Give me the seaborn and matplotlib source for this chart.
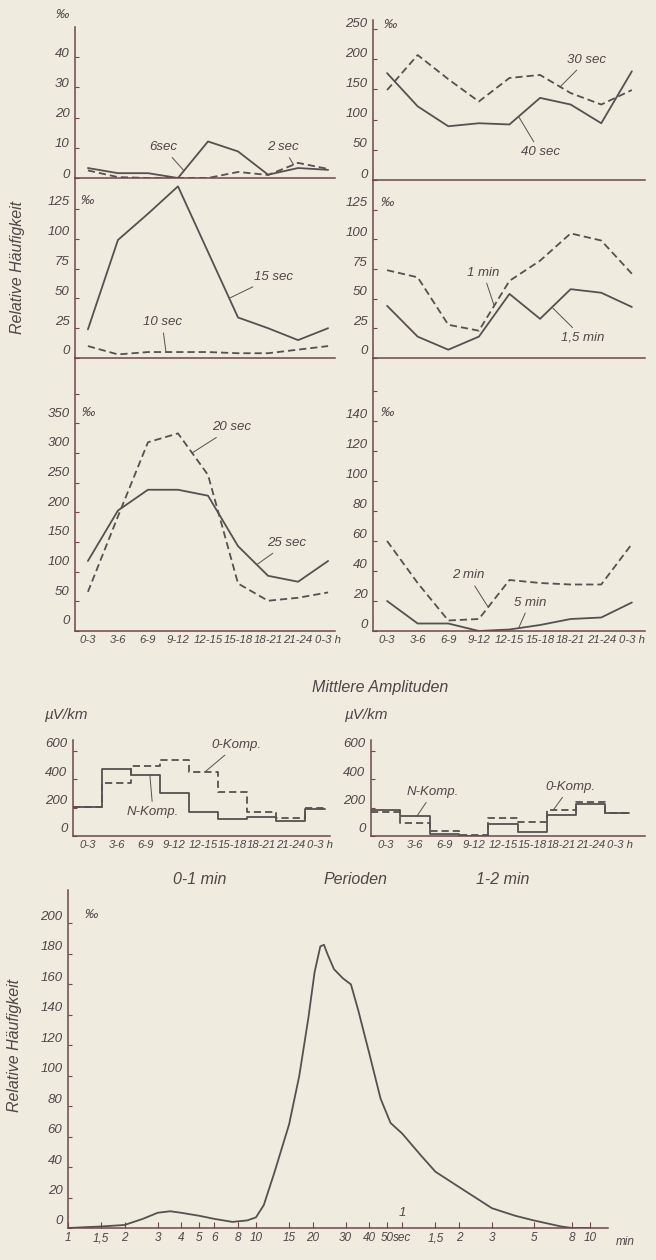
import matplotlib
matplotlib.use('Agg')
import matplotlib.pyplot as plt
import matplotlib.transforms as mtransforms
from matplotlib.ticker import NullLocator
import seaborn as sns

# ---- data (per mille / microvolt per km) ----
hours = ['0-3', '3-6', '6-9', '9-12', '12-15', '15-18', '18-21', '21-24', '0-3 h']

sec_6 = [3.3, 1.6, 1.6, 0, 12.1, 8.8, 1.1, 3.3, 2.7]
sec_2 = [2.5, 0.3, 0, 0, 0, 2, 1, 5, 3]
sec_30 = [149, 207, 167, 130, 169, 174, 144, 125, 149]
sec_40 = [177, 122, 89, 94, 92, 136, 125, 94, 180]
sec_15 = [24, 99, 121, 144, 89, 34, 25, 15, 25]
sec_10 = [10, 3, 5, 5, 5, 4, 4, 7, 10]
min_1 = [74, 68, 28, 23, 65, 82, 105, 99, 71]
min_1_5 = [44, 18, 7, 18, 54, 33, 58, 55, 43]
sec_20 = [66, 193, 318, 333, 263, 80, 51, 56, 65]
sec_25 = [118, 203, 238, 238, 228, 143, 93, 83, 118]
min_2 = [60, 32, 7, 8, 34, 32, 31, 31, 58]
min_5 = [20, 5, 5, 0, 1, 4, 8, 9, 19]

amp_short_n = [205, 473, 430, 303, 169, 120, 134, 106, 191]
amp_short_o = [205, 374, 494, 536, 452, 311, 169, 127, 198]
amp_long_n = [183, 141, 14, 0, 85, 28, 148, 226, 162]
amp_long_o = [169, 92, 35, 7, 127, 99, 183, 240, 162]

period_s = [1, 1.5, 2, 2.5, 3, 3.5, 4, 5, 6, 7.5, 9, 10, 11, 12.5, 15, 17, 19,
            20.5, 22, 23, 24, 26, 29, 32, 35, 40, 46, 52, 60, 75, 90, 120, 180,
            240, 300, 420, 480, 600]
freq = [0, 1, 2, 6, 10, 11, 10, 8, 6, 4, 5, 7, 15, 36, 68, 100, 138,
        168, 185, 186, 180, 170, 164, 160, 143, 115, 85, 69, 62, 48, 37, 27, 13,
        8, 5, 1, 0, 0]
period_ticks = [1, 1.5, 2, 3, 4, 5, 6, 8, 10, 15, 20, 30, 40, 50, 60, 90, 120, 180, 300, 480, 600]
period_labels = ['1', '1,5', '2', '3', '4', '5', '6', '8', '10', '15', '20', '30', '40',
                 '50', 'sec', '1,5', '2', '3', '5', '8', '10']

# ---- look ----
W, H = 656, 1260
paper = '#efebdf'
ink = '#4f4648'
axis_ink = '#6d474d'
line_ink = '#575051'
dash = (0, (4, 2.2))

sns.set_theme(style='ticks', rc={'axes.facecolor': paper, 'figure.facecolor': paper,
                                 'xtick.labelsize': 8.2, 'ytick.labelsize': 9.5})
plt.rcParams['font.family'] = ['Liberation Sans', 'DejaVu Sans']
plt.rcParams['font.style'] = 'italic'

fig = plt.figure(figsize=(W / 100, H / 100), dpi=100, facecolor=paper)


def panel(x0, y0, x1, y1):
    return fig.add_axes([x0 / W, 1 - y1 / H, (x1 - x0) / W, (y1 - y0) / H])


def style(ax, xlim, ylim, yticks, ylabels, lift, xlabels=None):
    ax.set_facecolor('none')
    ax.set_xlim(*xlim)
    ax.set_ylim(*ylim)
    ax.set_xlabel('')
    ax.set_ylabel('')
    for s in ['top', 'right']:
        ax.spines[s].set_visible(False)
    for s in ['left', 'bottom']:
        ax.spines[s].set_color(axis_ink)
        ax.spines[s].set_linewidth(1.1)
    ax.tick_params(axis='y', direction='in', length=3, width=0.8, color=axis_ink,
                   pad=4, labelcolor=ink)
    ax.set_yticks(yticks, ylabels)
    if xlabels is None:
        ax.set_xticks([])
    else:
        ax.set_xticks(range(len(xlabels)), xlabels)
        ax.tick_params(axis='x', length=0, pad=3, labelcolor=ink)
    off = mtransforms.ScaledTranslation(0, lift / 100, fig.dpi_scale_trans)
    for lab in ax.get_yticklabels():
        lab.set_transform(lab.get_transform() + off)


def curve(ax, y, dashed=False):
    sns.lineplot(x=list(range(len(y))), y=y, ax=ax, color=line_ink, lw=1.3,
                 linestyle=dash if dashed else '-')


def steps(ax, y, end, dashed=False):
    edges = [i - 0.5 for i in range(len(y))] + [end]
    sns.lineplot(x=edges, y=y + [y[-1]], ax=ax, color=line_ink, lw=1.3,
                 drawstyle='steps-post', linestyle=dash if dashed else '-')


def tag(ax, text, xy, xytext):
    ax.annotate(text, xy=xy, xytext=xytext, ha='center', va='center', fontsize=9.5,
                color=ink, arrowprops=dict(arrowstyle='-', color=line_ink, lw=0.7,
                                           shrinkA=1, shrinkB=0))


def permille(ax, x, y, ha='left'):
    ax.text(x, y, '‰', transform=ax.transAxes, ha=ha, va='center', fontsize=9.5, color=ink)


def labels(vals):
    return [str(v) for v in vals]


# ---- row 1 ----
ax = panel(75, 27, 335, 178)
curve(ax, sec_6)
curve(ax, sec_2, dashed=True)
style(ax, (-0.43, 8.23), (0, 50), [0, 10, 20, 30, 40], labels([0, 10, 20, 30, 40]), 5)
tag(ax, '6sec', (3.2, 2.4), (2.5, 10.2))
tag(ax, '2 sec', (6.85, 4.4), (6.5, 10.2))
permille(ax, -0.05, 1.08, 'center')

ax = panel(373, 20, 645, 180)
curve(ax, sec_30, dashed=True)
curve(ax, sec_40)
style(ax, (-0.46, 8.43), (0, 265), [0, 50, 100, 150, 200, 250],
      labels([0, 50, 100, 150, 200, 250]), 7)
tag(ax, '30 sec', (5.65, 154), (6.53, 199))
tag(ax, '40 sec', (4.3, 105), (5.0, 46))
permille(ax, 0.04, 0.97)

# ---- row 2 ----
ax = panel(75, 178, 335, 358)
curve(ax, sec_15)
curve(ax, sec_10, dashed=True)
style(ax, (-0.43, 8.23), (0, 151), [0, 25, 50, 75, 100, 125],
      labels([0, 25, 50, 75, 100, 125]), 8)
tag(ax, '15 sec', (4.7, 50), (6.17, 68))
tag(ax, '10 sec', (2.6, 5), (2.47, 30))
permille(ax, 0.02, 0.87)

ax = panel(373, 180, 645, 358)
curve(ax, min_1, dashed=True)
curve(ax, min_1_5)
style(ax, (-0.46, 8.43), (0, 150), [0, 25, 50, 75, 100, 125],
      labels([0, 25, 50, 75, 100, 125]), 8)
tag(ax, '1 min', (3.5, 44), (3.14, 72))
tag(ax, '1,5 min', (5.42, 42), (6.4, 17))
permille(ax, 0.03, 0.87)

# ---- row 3 ----
ax = panel(75, 358, 335, 631)
curve(ax, sec_20, dashed=True)
curve(ax, sec_25)
style(ax, (-0.43, 8.23), (0, 460), [0, 50, 100, 150, 200, 250, 300, 350, 400],
      labels([0, 50, 100, 150, 200, 250, 300, 350]) + [''], 11, hours)
tag(ax, '20 sec', (3.47, 300), (4.8, 343))
tag(ax, '25 sec', (5.63, 112), (6.63, 148))
permille(ax, 0.025, 0.80)

ax = panel(373, 358, 645, 631)
curve(ax, min_2, dashed=True)
curve(ax, min_5)
style(ax, (-0.46, 8.43), (0, 182), [0, 20, 40, 60, 80, 100, 120, 140, 160],
      labels([0, 20, 40, 60, 80, 100, 120, 140]) + [''], 8, hours)
tag(ax, '2 min', (3.3, 16), (2.65, 37))
tag(ax, '5 min', (4.3, 2), (4.67, 19))
permille(ax, 0.03, 0.80)

fig.text(18 / W, 1 - 267 / H, 'Relative Häufigkeit', rotation=90, ha='center', va='center',
         fontsize=11.5, color=ink)
fig.text(380 / W, 1 - 688 / H, 'Mittlere Amplituden', ha='center', va='center',
         fontsize=11.5, color=ink)

# ---- mean amplitudes ----
ax = panel(73, 740, 330, 836)
steps(ax, amp_short_o, 8.2, dashed=True)
steps(ax, amp_short_n, 8.2)
style(ax, (-0.5, 8.36), (0, 677), [0, 200, 400, 600], labels([0, 200, 400, 600]), 8, hours)
tag(ax, '0-Komp.', (4.05, 452), (5.15, 642))
tag(ax, 'N-Komp.', (2.15, 430), (2.26, 169))
ax.text(-0.03, 1.26, 'µV/km', transform=ax.transAxes, ha='center', va='center',
        fontsize=11, color=ink)

ax = panel(371, 740, 645, 836)
steps(ax, amp_long_o, 8.3, dashed=True)
steps(ax, amp_long_n, 8.3)
style(ax, (-0.5, 8.85), (0, 677), [0, 200, 400, 600], labels([0, 200, 400, 600]), 8, hours)
tag(ax, 'N-Komp.', (1.07, 141), (1.62, 310))
tag(ax, '0-Komp.', (5.72, 183), (6.29, 346))
ax.text(-0.02, 1.26, 'µV/km', transform=ax.transAxes, ha='center', va='center',
        fontsize=11, color=ink)

for x, t in [(200, '0-1 min'), (355, 'Perioden'), (503, '1-2 min')]:
    fig.text(x / W, 1 - 880 / H, t, ha='center', va='center', fontsize=11.5, color=ink)

# ---- distribution of periods ----
ax = panel(68, 890, 608, 1228)
sns.lineplot(x=period_s, y=freq, ax=ax, color=line_ink, lw=1.3)
ax.set_xscale('log')
style(ax, (1, 746), (0, 222), list(range(0, 201, 20)), labels(list(range(0, 201, 20))), 8)
ax.set_xticks(period_ticks, period_labels)
ax.xaxis.set_minor_locator(NullLocator())
ax.tick_params(axis='x', direction='in', length=4, width=0.8, color=axis_ink, pad=3,
               labelcolor=ink, labelsize=8.5)
ax.text(1.031, -0.042, 'min', transform=ax.transAxes, ha='center', va='center',
        fontsize=8.5, color=ink)
ax.text(60, 10, '1', ha='center', va='center', fontsize=9.5, color=ink)
permille(ax, 0.03, 0.925)

fig.text(15 / W, 1 - 1045 / H, 'Relative Häufigkeit', rotation=90, ha='center', va='center',
         fontsize=11.5, color=ink)

fig.savefig('out.png', dpi=100, facecolor=paper)
